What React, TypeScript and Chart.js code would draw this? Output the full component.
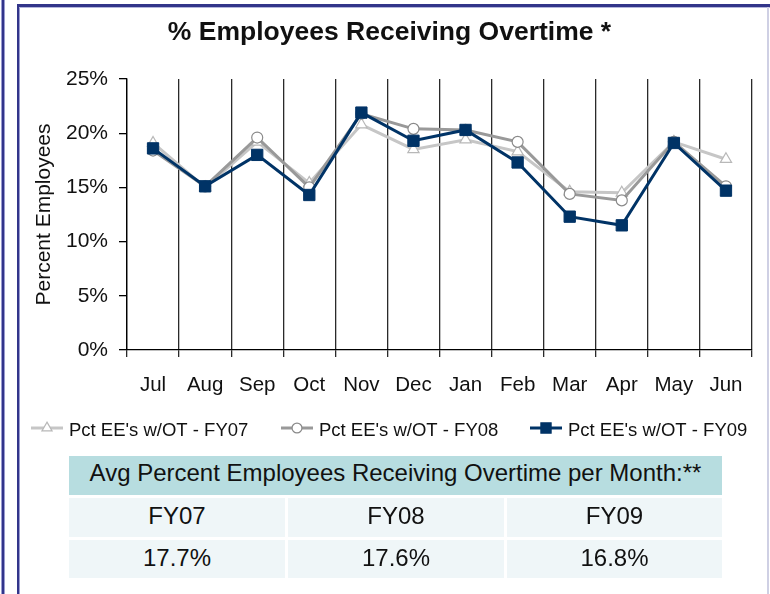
import React, { useEffect, useRef } from "react";
import { Chart, registerables } from "chart.js";
Chart.register(...registerables);

const months = ["Jul", "Aug", "Sep", "Oct", "Nov", "Dec", "Jan", "Feb", "Mar", "Apr", "May", "Jun"];
const fy07 = [19.1, 15.0, 19.2, 15.4, 20.8, 18.5, 19.4, 18.3, 14.6, 14.5, 19.2, 17.6];
const fy08 = [18.4, 15.1, 19.6, 15.0, 21.8, 20.4, 20.3, 19.2, 14.4, 13.8, 19.2, 15.1];
const fy09 = [18.6, 15.1, 18.0, 14.3, 21.9, 19.3, 20.3, 17.3, 12.3, 11.5, 19.1, 14.7];
const seriesNames = ["Pct EE's w/OT - FY07", "Pct EE's w/OT - FY08", "Pct EE's w/OT - FY09"];
const yMin = 0;
const yMax = 25;
const yStep = 5;
const chartTitle = "% Employees Receiving Overtime *";
const yTitle = "Percent Employees";
const tableTitle = "Avg Percent Employees Receiving Overtime per Month:**";
const avgLabels = ["FY07", "FY08", "FY09"];
const avgValues = ["17.7%", "17.6%", "16.8%"];

const NARROW = '"Liberation Sans Narrow", "Arial Narrow", "Liberation Sans", sans-serif';
const SANS = '"Liberation Sans", Arial, sans-serif';

function drawMarker(ctx: CanvasRenderingContext2D, style: string, x: number, y: number, r: number, fill: string, stroke: string) {
  ctx.save();
  ctx.fillStyle = fill;
  ctx.strokeStyle = stroke;
  ctx.lineWidth = 1.2;
  ctx.beginPath();
  if (style === "triangle") {
    for (let k = 0; k < 3; k++) {
      const a = -Math.PI / 2 + (k * 2 * Math.PI) / 3;
      const px = x + Math.cos(a) * r;
      const py = y + Math.sin(a) * r;
      if (k === 0) ctx.moveTo(px, py);
      else ctx.lineTo(px, py);
    }
    ctx.closePath();
  } else if (style === "circle") {
    ctx.arc(x, y, r, 0, Math.PI * 2);
  } else {
    const s = r * Math.SQRT1_2;
    ctx.rect(x - s, y - s, 2 * s, 2 * s);
  }
  ctx.fill();
  ctx.stroke();
  ctx.restore();
}

const legendPlugin = {
  id: "customLegend",
  afterDraw(chart: any) {
    const ctx: CanvasRenderingContext2D = chart.ctx;
    const starts = [31, 281, 530];
    const y = 428;
    chart.data.datasets.forEach((ds: any, i: number) => {
      const x0 = starts[i];
      ctx.save();
      ctx.strokeStyle = ds.borderColor;
      ctx.lineWidth = 3;
      ctx.beginPath();
      ctx.moveTo(x0, y);
      ctx.lineTo(x0 + 32, y);
      ctx.stroke();
      drawMarker(ctx, ds.pointStyle, x0 + 16, y, ds.pointRadius * 0.9, ds.pointBackgroundColor, ds.pointBorderColor);
      ctx.fillStyle = "#111";
      ctx.font = `18.5px ${NARROW}`;
      ctx.textBaseline = "middle";
      ctx.textAlign = "left";
      ctx.fillText(ds.label, x0 + 38, y + 3);
      ctx.restore();
    });
  },
};

export default function App() {
  const ref = useRef<HTMLCanvasElement>(null);
  useEffect(() => {
    const chart = new Chart(ref.current!, {
      type: "line",
      data: {
        labels: months,
        datasets: [
          {
            label: seriesNames[0],
            data: fy07,
            borderColor: "#c6c6c6",
            borderWidth: 3,
            pointStyle: "triangle",
            pointRadius: 6.5,
            pointBackgroundColor: "#ffffff",
            pointBorderColor: "#b8b8b8",
            pointBorderWidth: 1.2,
            tension: 0,
            order: 3,
          },
          {
            label: seriesNames[1],
            data: fy08,
            borderColor: "#999999",
            borderWidth: 3,
            pointStyle: "circle",
            pointRadius: 5.5,
            pointBackgroundColor: "#ffffff",
            pointBorderColor: "#8a8a8a",
            pointBorderWidth: 1.2,
            tension: 0,
            order: 2,
          },
          {
            label: seriesNames[2],
            data: fy09,
            borderColor: "#003366",
            borderWidth: 3,
            pointStyle: "rect",
            pointRadius: 8,
            pointBackgroundColor: "#003366",
            pointBorderColor: "#003366",
            pointBorderWidth: 1,
            tension: 0,
            order: 1,
          },
        ],
      } as any,
      options: {
        responsive: false,
        animation: false,
        devicePixelRatio: 1,
        layout: { padding: { top: 79, right: 18, bottom: 184, left: 0 } },
        plugins: {
          legend: { display: false },
          title: { display: false },
          tooltip: { enabled: false },
        },
        scales: {
          x: {
            offset: true,
            grid: { offset: true, color: "#2a2a2a", lineWidth: 1.3, tickLength: 7, drawOnChartArea: true },
            border: { color: "#000", width: 1.3 },
            ticks: { color: "#111", font: { family: NARROW, size: 20.5 }, padding: 16, maxRotation: 0, autoSkip: false },
            afterFit: (s: any) => {
              s.height = 60;
            },
          },
          y: {
            min: yMin,
            max: yMax,
            ticks: {
              stepSize: yStep,
              color: "#111",
              font: { family: NARROW, size: 21 },
              padding: 11,
              callback: (v: any) => v + "%",
            },
            grid: { drawOnChartArea: false, drawTicks: true, tickLength: 8, color: "#000", lineWidth: 1.3 },
            border: { color: "#000", width: 1.3 },
            title: {
              display: true,
              text: yTitle,
              color: "#111",
              font: { family: NARROW, size: 21, weight: "normal" },
              padding: { top: 32, bottom: 0 },
            },
            afterFit: (s: any) => {
              s.width = 127;
            },
          },
        },
      } as any,
      plugins: [legendPlugin],
    });
    return () => chart.destroy();
  }, []);

  const navy = "#32358a";
  const cellBase: React.CSSProperties = {
    position: "absolute",
    display: "flex",
    alignItems: "center",
    justifyContent: "center",
    fontFamily: SANS,
    fontSize: 24,
    color: "#111",
    boxSizing: "border-box",
  };
  const cols = [
    [69, 285],
    [288, 504],
    [507, 722],
  ];

  return (
    <div style={{ position: "absolute", left: 0, top: 0, width: 770, height: 594, background: "#fff", overflow: "hidden" }}>
      <canvas ref={ref} width={770} height={594} style={{ position: "absolute", left: 0, top: 0, width: 770, height: 594 }} />
      {/* frame lines */}
      <div style={{ position: "absolute", left: 1, top: 0, width: 1, height: 594, background: "#9a9cd0" }} />
      <div style={{ position: "absolute", left: 2, top: 0, width: 2, height: 594, background: navy }} />
      <div style={{ position: "absolute", left: 4, top: 0, width: 1, height: 594, background: "#9a9cd0" }} />
      <div style={{ position: "absolute", left: 17, top: 4, width: 2, height: 590, background: navy }} />
      <div style={{ position: "absolute", left: 19, top: 6, width: 1, height: 588, background: "#9a9cd0" }} />
      <div style={{ position: "absolute", left: 17, top: 4, width: 753, height: 3, background: navy }} />
      <div style={{ position: "absolute", left: 19, top: 7, width: 751, height: 1, background: "#b4b6dc" }} />
      <div style={{ position: "absolute", left: 767, top: 7, width: 2, height: 587, background: "#cfd0e4" }} />
      {/* title */}
      <div
        style={{
          position: "absolute",
          left: 0,
          top: 18,
          width: 779,
          textAlign: "center",
          fontFamily: SANS,
          fontWeight: "bold",
          fontSize: 26.5,
          lineHeight: "26px",
          color: "#111",
          whiteSpace: "nowrap",
        }}
      >
        {chartTitle}
      </div>
      {/* table */}
      <div style={{ ...cellBase, left: 69, top: 456, width: 653, height: 39, background: "#b7dde0", paddingBottom: 5 }}>
        {tableTitle}
      </div>
      {avgLabels.map((l, i) => (
        <div
          key={"l" + i}
          style={{ ...cellBase, left: cols[i][0], top: 498, width: cols[i][1] - cols[i][0], height: 39, background: "#eff6f8", paddingBottom: 4 }}
        >
          {l}
        </div>
      ))}
      {avgValues.map((v, i) => (
        <div
          key={"v" + i}
          style={{ ...cellBase, left: cols[i][0], top: 540, width: cols[i][1] - cols[i][0], height: 38, background: "#eff6f8", paddingBottom: 2 }}
        >
          {v}
        </div>
      ))}
    </div>
  );
}
